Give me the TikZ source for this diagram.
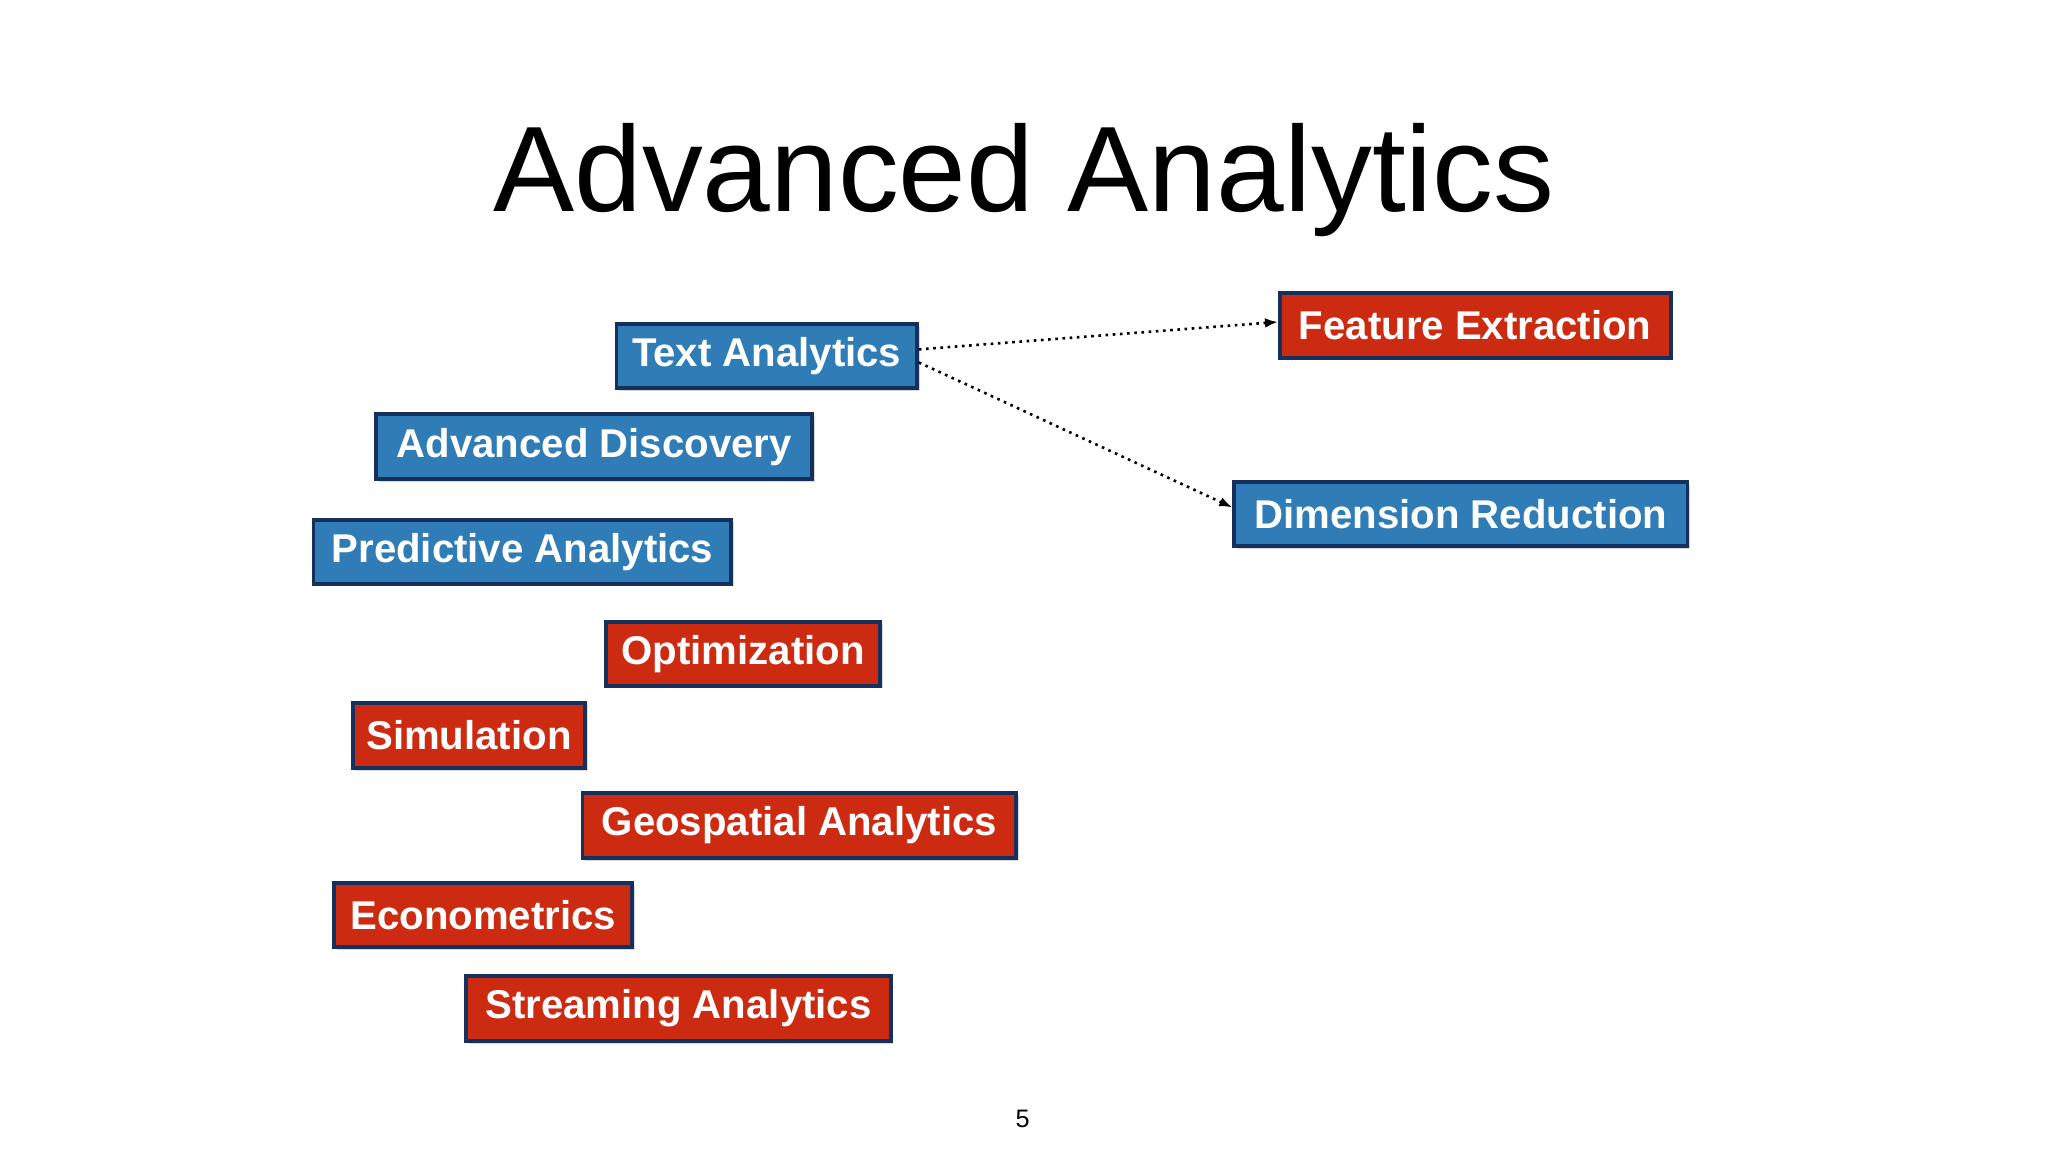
\documentclass[tikz,border=0pt]{standalone}
\usepackage{fontspec}
\setmainfont{Liberation Sans}
\usetikzlibrary{arrows.meta,shadows}
\definecolor{bluebox}{HTML}{2F7CB6}
\definecolor{redbox}{HTML}{CC2B12}
\definecolor{navy}{HTML}{15305C}
\tikzset{
 box/.style={draw=navy,line width=0.06cm,text=white,font=\bfseries\fontsize{17.5}{20}\selectfont,inner sep=0pt,drop shadow={shadow xshift=0.04cm,shadow yshift=-0.04cm,opacity=0.3}},
 bluebox/.style={box,fill=bluebox},
 redbox/.style={box,fill=redbox},
 link/.style={dotted,line width=0.04cm,-{Latex[length=0.2cm,width=0.15cm]}}
}
\newcommand{\bx}[7]{\node[#1,minimum width={(#5-#3)*0.02cm},minimum height={(#6-#4)*0.02cm}] (#2) at ({(#3+#5)/2},{882-(#4+#6)/2}) {#7};}
\begin{document}
\begin{tikzpicture}[x=0.02cm,y=0.02cm]
\useasboundingbox (0,0) rectangle (1568,882);
\node[font=\fontsize{53}{60}\selectfont] (title) at (784,744) {Advanced Analytics};
\bx{bluebox}{ta}{472}{248}{702}{297}{Text Analytics}
\bx{bluebox}{ad}{288}{317}{622}{367}{Advanced Discovery}
\bx{bluebox}{pa}{240}{398}{560}{447}{Predictive Analytics}
\bx{redbox}{op}{464}{476}{674}{525}{Optimization}
\bx{redbox}{si}{270}{538}{448}{588}{Simulation}
\bx{redbox}{ge}{446}{607}{778}{657}{Geospatial Analytics}
\bx{redbox}{ec}{256}{676}{484}{725}{Econometrics}
\bx{redbox}{st}{357}{747}{682}{797}{Streaming Analytics}
\bx{redbox}{fe}{980}{224}{1279}{274}{Feature Extraction}
\bx{bluebox}{dr}{945}{369}{1292}{418}{Dimension Reduction}
\draw[link] ([yshift=0.1cm]ta.east) -- ([yshift=0.05cm]fe.west);
\draw[link] ([yshift=-0.1cm]ta.east) -- ([yshift=0.1cm]dr.west);
\node[font=\fontsize{11}{13}\selectfont] (pg) at (783,25) {5};
\end{tikzpicture}
\end{document}
